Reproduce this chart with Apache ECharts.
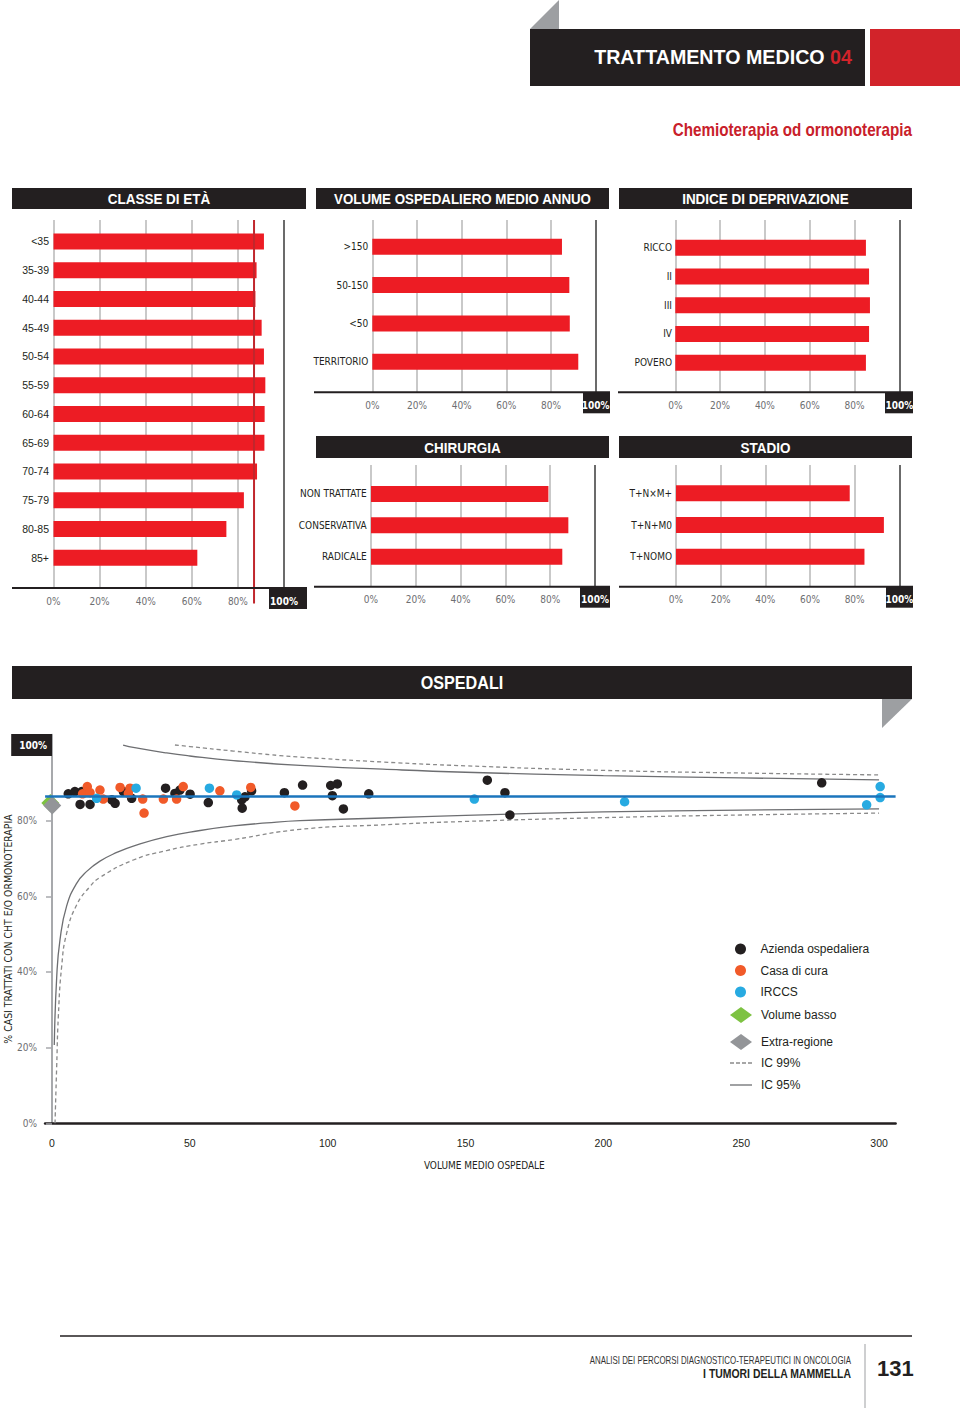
<!DOCTYPE html>
<html><head><meta charset="utf-8">
<script src="https://cdn.jsdelivr.net/npm/echarts@6/dist/echarts.min.js"></script>
<style>html,body{margin:0;padding:0;background:#fff}#c{width:960px;height:1408px}</style>
</head><body><div id="c"></div>
<script>
// ---------------- DATA ----------------
const percentTicks = [0, 20, 40, 60, 80, 100];
const ageCategories = ['<35','35-39','40-44','45-49','50-54','55-59','60-64','65-69','70-74','75-79','80-85','85+'];
const ageValues = [91.3, 88.1, 87.6, 90.3, 91.3, 91.9, 91.6, 91.5, 88.3, 82.6, 75.0, 62.4];
const ageReference = 87.0;
const volumeCategories = ['>150','50-150','<50','TERRITORIO'];
const volumeValues = [84.9, 88.2, 88.4, 92.2];
const deprivationCategories = ['RICCO','II','III','IV','POVERO'];
const deprivationValues = [85.1, 86.5, 86.9, 86.5, 85.1];
const surgeryCategories = ['NON TRATTATE','CONSERVATIVA','RADICALE'];
const surgeryValues = [79.2, 88.1, 85.4];
const stageCategories = ['T+N×M+','T+N+M0','T+NOMO'];
const stageValues = [77.8, 93.1, 84.4];

const volumeTicks = [0, 50, 100, 150, 200, 250, 300];
const meanValue = 86.5;
const aziendaPoints = [[5.9,87.1],[8.3,87.7],[10.8,87.7],[10.2,84.3],[13.8,84.3],[21.7,85.5],[22.9,84.6],[25.9,87.7],[28.9,85.9],[41.2,88.6],[44.6,87.2],[46.4,88.1],[50.1,87.0],[56.7,84.8],[68.8,85.5],[69.0,83.3],[70.0,86.3],[72.4,87.9],[84.3,87.4],[90.9,89.4],[101.1,89.3],[103.5,89.7],[101.7,86.6],[105.7,83.1],[114.9,87.1],[157.9,90.7],[164.3,87.4],[166.1,81.5],[279.2,90.0]];
const casaPoints = [[12.8,89.0],[11.1,87.1],[13.8,87.4],[17.4,88.1],[18.6,85.7],[24.7,88.8],[27.7,87.2],[28.3,88.6],[32.9,85.7],[33.4,82.0],[40.4,85.7],[45.2,85.7],[47.6,89.0],[60.9,87.9],[72.1,88.8],[88.1,83.9]];
const irccsPoints = [[16.2,85.9],[30.5,88.6],[57.1,88.6],[67.0,86.8],[153.2,85.7],[207.7,85.0],[295.5,84.2],[300.4,89.0],[300.4,86.1]];
const volumeBassoPoints = [[-0.6, 84.7]];
const extraRegionePoints = [[0.1, 84.0]];
const ic95Upper = [[25.8,100.0],[30,99.3],[41.6,97.9],[50,97.1],[65.8,95.9],[90,94.6],[120,93.6],[150,92.8],[200,91.9],[250,91.3],[300,90.8]];
const ic95Lower = [[0.83,20.7],[1.7,38.5],[2.9,48.5],[5.3,57.4],[9.0,63.5],[12.6,66.6],[17.4,69.3],[23.5,71.6],[29.5,73.3],[41.6,75.8],[53.7,77.4],[65.8,78.6],[77.9,79.4],[90,80.0],[120,80.7],[150,81.4],[200,82.3],[250,82.8],[300,83.1]];
const ic99Upper = [[44.6,100.0],[50,99.6],[65.8,98.4],[82.7,97.2],[90,96.8],[120,95.5],[150,94.5],[200,93.3],[250,92.6],[300,92.1]];
const ic99Lower = [[1.1,0],[1.7,15.0],[2.3,28.2],[3.5,41.4],[5.3,50.2],[9.0,57.8],[13.8,62.6],[17.4,65.0],[29.5,69.6],[41.6,72.1],[53.7,73.8],[65.8,75.0],[90,77.7],[120,78.9],[150,79.8],[200,80.8],[250,81.5],[300,82.0]];

// ---------------- STYLE ----------------
const COND = '"DejaVu Sans Condensed","Liberation Sans Narrow",sans-serif';
const SANS = '"Liberation Sans",Helvetica,Arial,sans-serif';
const BLACK = '#231f20', RED = '#ed1c24', DARKRED = '#c8202a', GRIDC = '#b7b7b7', TICKC = '#6d6e71';

const panels = [
  {cats: ageCategories, vals: ageValues, x0: 53.5, x100: 284, barTop: 227, barBottom: 572, top: 220, bottom: 588, lineL: 12, lineR: 307, boxL: 269, boxR: 307, labelRight: 49, font: SANS, fs: 10.5, ref: ageReference},
  {cats: volumeCategories, vals: volumeValues, x0: 372.3, x100: 595.7, barTop: 227.5, barBottom: 381, top: 220, bottom: 392.3, lineL: 314, lineR: 610, boxL: 583, boxR: 610, labelRight: 368.3, font: COND, fs: 10},
  {cats: deprivationCategories, vals: deprivationValues, x0: 675.3, x100: 899.3, barTop: 233.3, barBottom: 377.1, top: 220, bottom: 392.3, lineL: 618, lineR: 913, boxL: 885, boxR: 913, labelRight: 672, font: COND, fs: 10},
  {cats: surgeryCategories, vals: surgeryValues, x0: 371, x100: 595, barTop: 478.3, barBottom: 572.3, top: 465, bottom: 586.7, lineL: 314, lineR: 610, boxL: 580, boxR: 610, labelRight: 366.7, font: COND, fs: 10},
  {cats: stageCategories, vals: stageValues, x0: 676, x100: 899.3, barTop: 477.5, barBottom: 572.5, top: 465, bottom: 586.7, lineL: 619, lineR: 913, boxL: 886, boxR: 913, labelRight: 672, font: COND, fs: 10}
];

const grid = [], xAxis = [], yAxis = [], series = [], graphic = [];

panels.forEach((p, i) => {
  const a = 2 * i, b = 2 * i + 1;
  grid.push({left: p.x0, top: p.top, width: p.x100 - p.x0, height: p.bottom - p.top, outerBoundsMode: 'none'});
  grid.push({left: p.x0, top: p.barTop, width: p.x100 - p.x0, height: p.barBottom - p.barTop, outerBoundsMode: 'none'});
  xAxis.push({gridIndex: a, type: 'value', min: 0, max: 100, interval: 20,
    axisLine: {show: false}, axisTick: {show: false},
    splitLine: {show: true, lineStyle: {color: [GRIDC, GRIDC, GRIDC, GRIDC, GRIDC, '#3a3a3a'], width: 1.5}},
    axisLabel: {margin: 8, fontFamily: COND, fontSize: 10, color: TICKC,
      formatter: v => v === 100 ? '{b|100%}' : v + '%',
      rich: {b: {color: '#fff', fontWeight: 'bold', fontFamily: COND, fontSize: 10}}}});
  yAxis.push({gridIndex: a, type: 'value', min: 0, max: 1, show: false});
  xAxis.push({gridIndex: b, type: 'value', min: 0, max: 100, show: false});
  yAxis.push({gridIndex: b, type: 'category', data: p.cats, inverse: true,
    axisLine: {show: false}, axisTick: {show: false}, splitLine: {show: false},
    axisLabel: {margin: p.x0 - p.labelRight, fontFamily: p.font, fontSize: p.fs, color: BLACK}});
  series.push({type: 'bar', xAxisIndex: b, yAxisIndex: b, data: p.vals, barWidth: 16,
    itemStyle: {color: RED}, silent: true, animation: false});
  if (p.ref !== undefined) {
    series.push({type: 'line', xAxisIndex: a, yAxisIndex: a, clip: false, symbol: 'none',
      data: [[p.ref, -0.042], [p.ref, 1]], lineStyle: {color: '#c1272d', width: 2}, silent: true, animation: false, z: 5});
  }
  graphic.push({type: 'rect', shape: {x: p.boxL, y: p.bottom, width: p.boxR - p.boxL, height: 21}, style: {fill: BLACK}, z: -1});
  graphic.push({type: 'line', shape: {x1: p.lineL, y1: p.bottom, x2: p.lineR, y2: p.bottom}, style: {stroke: BLACK, lineWidth: 2}, z: 10});
});

// scatter grid
const S = 10;
grid.push({left: 45.1, top: 734.8, width: 850.5, height: 388.5, outerBoundsMode: 'none'});
xAxis.push({gridIndex: S, type: 'value', min: -2.5, max: 306,
  axisLine: {onZero: false, lineStyle: {color: BLACK, width: 2.5}},
  axisTick: {show: false}, splitLine: {show: false},
  axisLabel: {customValues: volumeTicks, margin: 14, color: BLACK, fontSize: 10.5, fontFamily: SANS},
  name: 'VOLUME MEDIO OSPEDALE', nameLocation: 'middle', nameGap: 37, nameMoveOverlap: false,
  nameTextStyle: {fontFamily: COND, fontSize: 10, color: BLACK, padding: [0, 0, 0, 28]}});
yAxis.push({gridIndex: S, type: 'value', min: 0, max: 102.7, offset: -6.9,
  axisLine: {onZero: false, lineStyle: {color: '#a7a9ac', width: 2}},
  axisTick: {customValues: percentTicks, length: 6, lineStyle: {color: '#a7a9ac', width: 1.5}},
  splitLine: {show: false},
  axisLabel: {customValues: percentTicks, margin: 0,
    formatter: v => v === 100 ? '{b|100%}' : '{a|' + v + '%}',
    rich: {a: {color: TICKC, fontSize: 10, fontFamily: COND, padding: [0, 15, 0, 0]},
           b: {color: '#fff', backgroundColor: BLACK, fontWeight: 'bold', fontSize: 10, fontFamily: COND, padding: [6, 5, 6, 8]}}},
  name: '% CASI TRATTATI CON CHT E/O ORMONOTERAPIA', nameLocation: 'middle', nameRotate: 90, nameGap: 39, nameMoveOverlap: false,
  nameTextStyle: {fontFamily: COND, fontSize: 10.4, color: BLACK}});

const lineCommon = {type: 'line', xAxisIndex: S, yAxisIndex: S, symbol: 'none', smooth: 0.5, silent: true, animation: false, z: 2};
const IC99C = '#8a8a8a', IC95C = '#6d6e71';
series.push(Object.assign({name: 'IC 99%', data: ic99Upper, itemStyle: {color: IC99C}, lineStyle: {color: IC99C, width: 1.3, type: [4, 3]}}, lineCommon));
series.push(Object.assign({name: 'IC 99%', data: ic99Lower, itemStyle: {color: IC99C}, lineStyle: {color: IC99C, width: 1.3, type: [4, 3]}}, lineCommon));
series.push(Object.assign({name: 'IC 95%', data: ic95Upper, itemStyle: {color: IC95C}, lineStyle: {color: IC95C, width: 1.3}}, lineCommon));
series.push(Object.assign({name: 'IC 95%', data: ic95Lower, itemStyle: {color: IC95C}, lineStyle: {color: IC95C, width: 1.3}}, lineCommon));

const sc = (name, data, color, symbol, size) => ({name, type: 'scatter', xAxisIndex: S, yAxisIndex: S, data,
  symbol, symbolSize: size, itemStyle: {color, opacity: 1}, animation: false, z: 4});
series.push(sc('Volume basso', volumeBassoPoints, '#7dc242', 'diamond', 18));
series.push(sc('Extra-regione', extraRegionePoints, '#939598', 'diamond', 18));
series.push(sc('Azienda ospedaliera', aziendaPoints, BLACK, 'circle', 9.5));
series.push(sc('Casa di cura', casaPoints, '#f15a29', 'circle', 9.5));
const ir = sc('IRCCS', irccsPoints, '#27aae1', 'circle', 9.5);
ir.markLine = {silent: true, symbol: 'none', label: {show: false}, animation: false,
  lineStyle: {color: '#1b75bc', width: 2.5, type: 'solid'}, data: [{yAxis: meanValue}]};
series.push(ir);

// ---------------- DECORATION ----------------
// condensed-looking text: Liberation Sans squeezed horizontally
const ctext = (text, x, y, size, bold, fill, align, sx) => ({type: 'text', x, y, scaleX: sx, scaleY: 1, z: 20,
  style: {text, font: (bold ? 'bold ' : '') + size + 'px ' + SANS, fill, align, verticalAlign: 'middle'}});

graphic.push({type: 'polygon', shape: {points: [[530, 29], [559, 0], [559, 29]]}, style: {fill: '#9d9fa2'}});
graphic.push({type: 'rect', shape: {x: 530, y: 29, width: 335, height: 57}, style: {fill: BLACK}});
graphic.push({type: 'rect', shape: {x: 870, y: 29, width: 90, height: 57}, style: {fill: '#d2232a'}});
graphic.push({type: 'text', x: 852, y: 57, scaleX: 0.96, z: 20, style: {text: '{w|TRATTAMENTO MEDICO }{r|04}', align: 'right', verticalAlign: 'middle',
  rich: {w: {fill: '#fff', font: 'bold 20.5px ' + SANS}, r: {fill: '#d2232a', font: 'bold 20.5px ' + SANS}}}});
graphic.push(ctext('Chemioterapia od ormonoterapia', 912, 130, 17.7, true, DARKRED, 'right', 0.86));

const header = (x1, x2, y1, y2, t, fs, sx) => {
  graphic.push({type: 'rect', shape: {x: x1, y: y1, width: x2 - x1, height: y2 - y1}, style: {fill: BLACK}});
  graphic.push(ctext(t, (x1 + x2) / 2, (y1 + y2) / 2 + 0.5, fs, true, '#fff', 'center', sx));
};
header(12, 306, 188, 209, 'CLASSE DI ETÀ', 15.5, 0.87);
header(316, 609, 188, 209, 'VOLUME OSPEDALIERO MEDIO ANNUO', 15.5, 0.86);
header(619, 912, 188, 209, 'INDICE DI DEPRIVAZIONE', 15.5, 0.87);
header(316, 609, 436, 458, 'CHIRURGIA', 15.5, 0.87);
header(619, 912, 436, 458, 'STADIO', 15.5, 0.87);
header(12, 912, 666, 699, 'OSPEDALI', 19, 0.85);
graphic.push({type: 'polygon', shape: {points: [[882, 699], [912, 699], [882, 728]]}, style: {fill: '#9d9fa2'}});

// footer
graphic.push({type: 'line', shape: {x1: 60, y1: 1336, x2: 912, y2: 1336}, style: {stroke: BLACK, lineWidth: 1.5}});
graphic.push({type: 'line', shape: {x1: 865, y1: 1344, x2: 865, y2: 1408}, style: {stroke: '#9d9fa2', lineWidth: 1}});
graphic.push(ctext('ANALISI DEI PERCORSI DIAGNOSTICO-TERAPEUTICI IN ONCOLOGIA', 851, 1361, 10, false, '#333', 'right', 0.79));
graphic.push(ctext('I TUMORI DELLA MAMMELLA', 851, 1374, 12, true, BLACK, 'right', 0.87));
graphic.push(ctext('131', 877, 1368, 22, true, BLACK, 'left', 1));

const legendText = {fontFamily: SANS, fontSize: 12, color: BLACK, padding: [0, 0, 0, 4]};
const SOLID_ICON = 'path://M0,0h22v1.3h-22z';
const DASH_ICON = 'path://M0,0h4v1.3h-4z M6,0h4v1.3h-4z M12,0h4v1.3h-4z M18,0h4v1.3h-4z';
const option = {
  animation: false,
  backgroundColor: '#fff',
  grid, xAxis, yAxis, series, graphic,
  legend: [
    {orient: 'vertical', left: 730, top: 938, itemWidth: 22, itemHeight: 11, itemGap: 9.5, textStyle: legendText,
     selectedMode: false, data: ['Azienda ospedaliera', 'Casa di cura', 'IRCCS']},
    {orient: 'vertical', left: 725, top: 1002, itemWidth: 22, itemHeight: 16, itemGap: 11, textStyle: legendText,
     selectedMode: false, data: ['Volume basso', 'Extra-regione']},
    {orient: 'vertical', left: 725, top: 1052, itemWidth: 22, itemHeight: 12, itemGap: 10, textStyle: legendText,
     itemStyle: {borderWidth: 0}, selectedMode: false,
     data: [{name: 'IC 99%', icon: DASH_ICON}, {name: 'IC 95%', icon: SOLID_ICON}]}
  ]
};
const chart = echarts.init(document.getElementById('c'), null, {renderer: 'svg', width: 960, height: 1408});
chart.setOption(option);
</script>
</body></html>
